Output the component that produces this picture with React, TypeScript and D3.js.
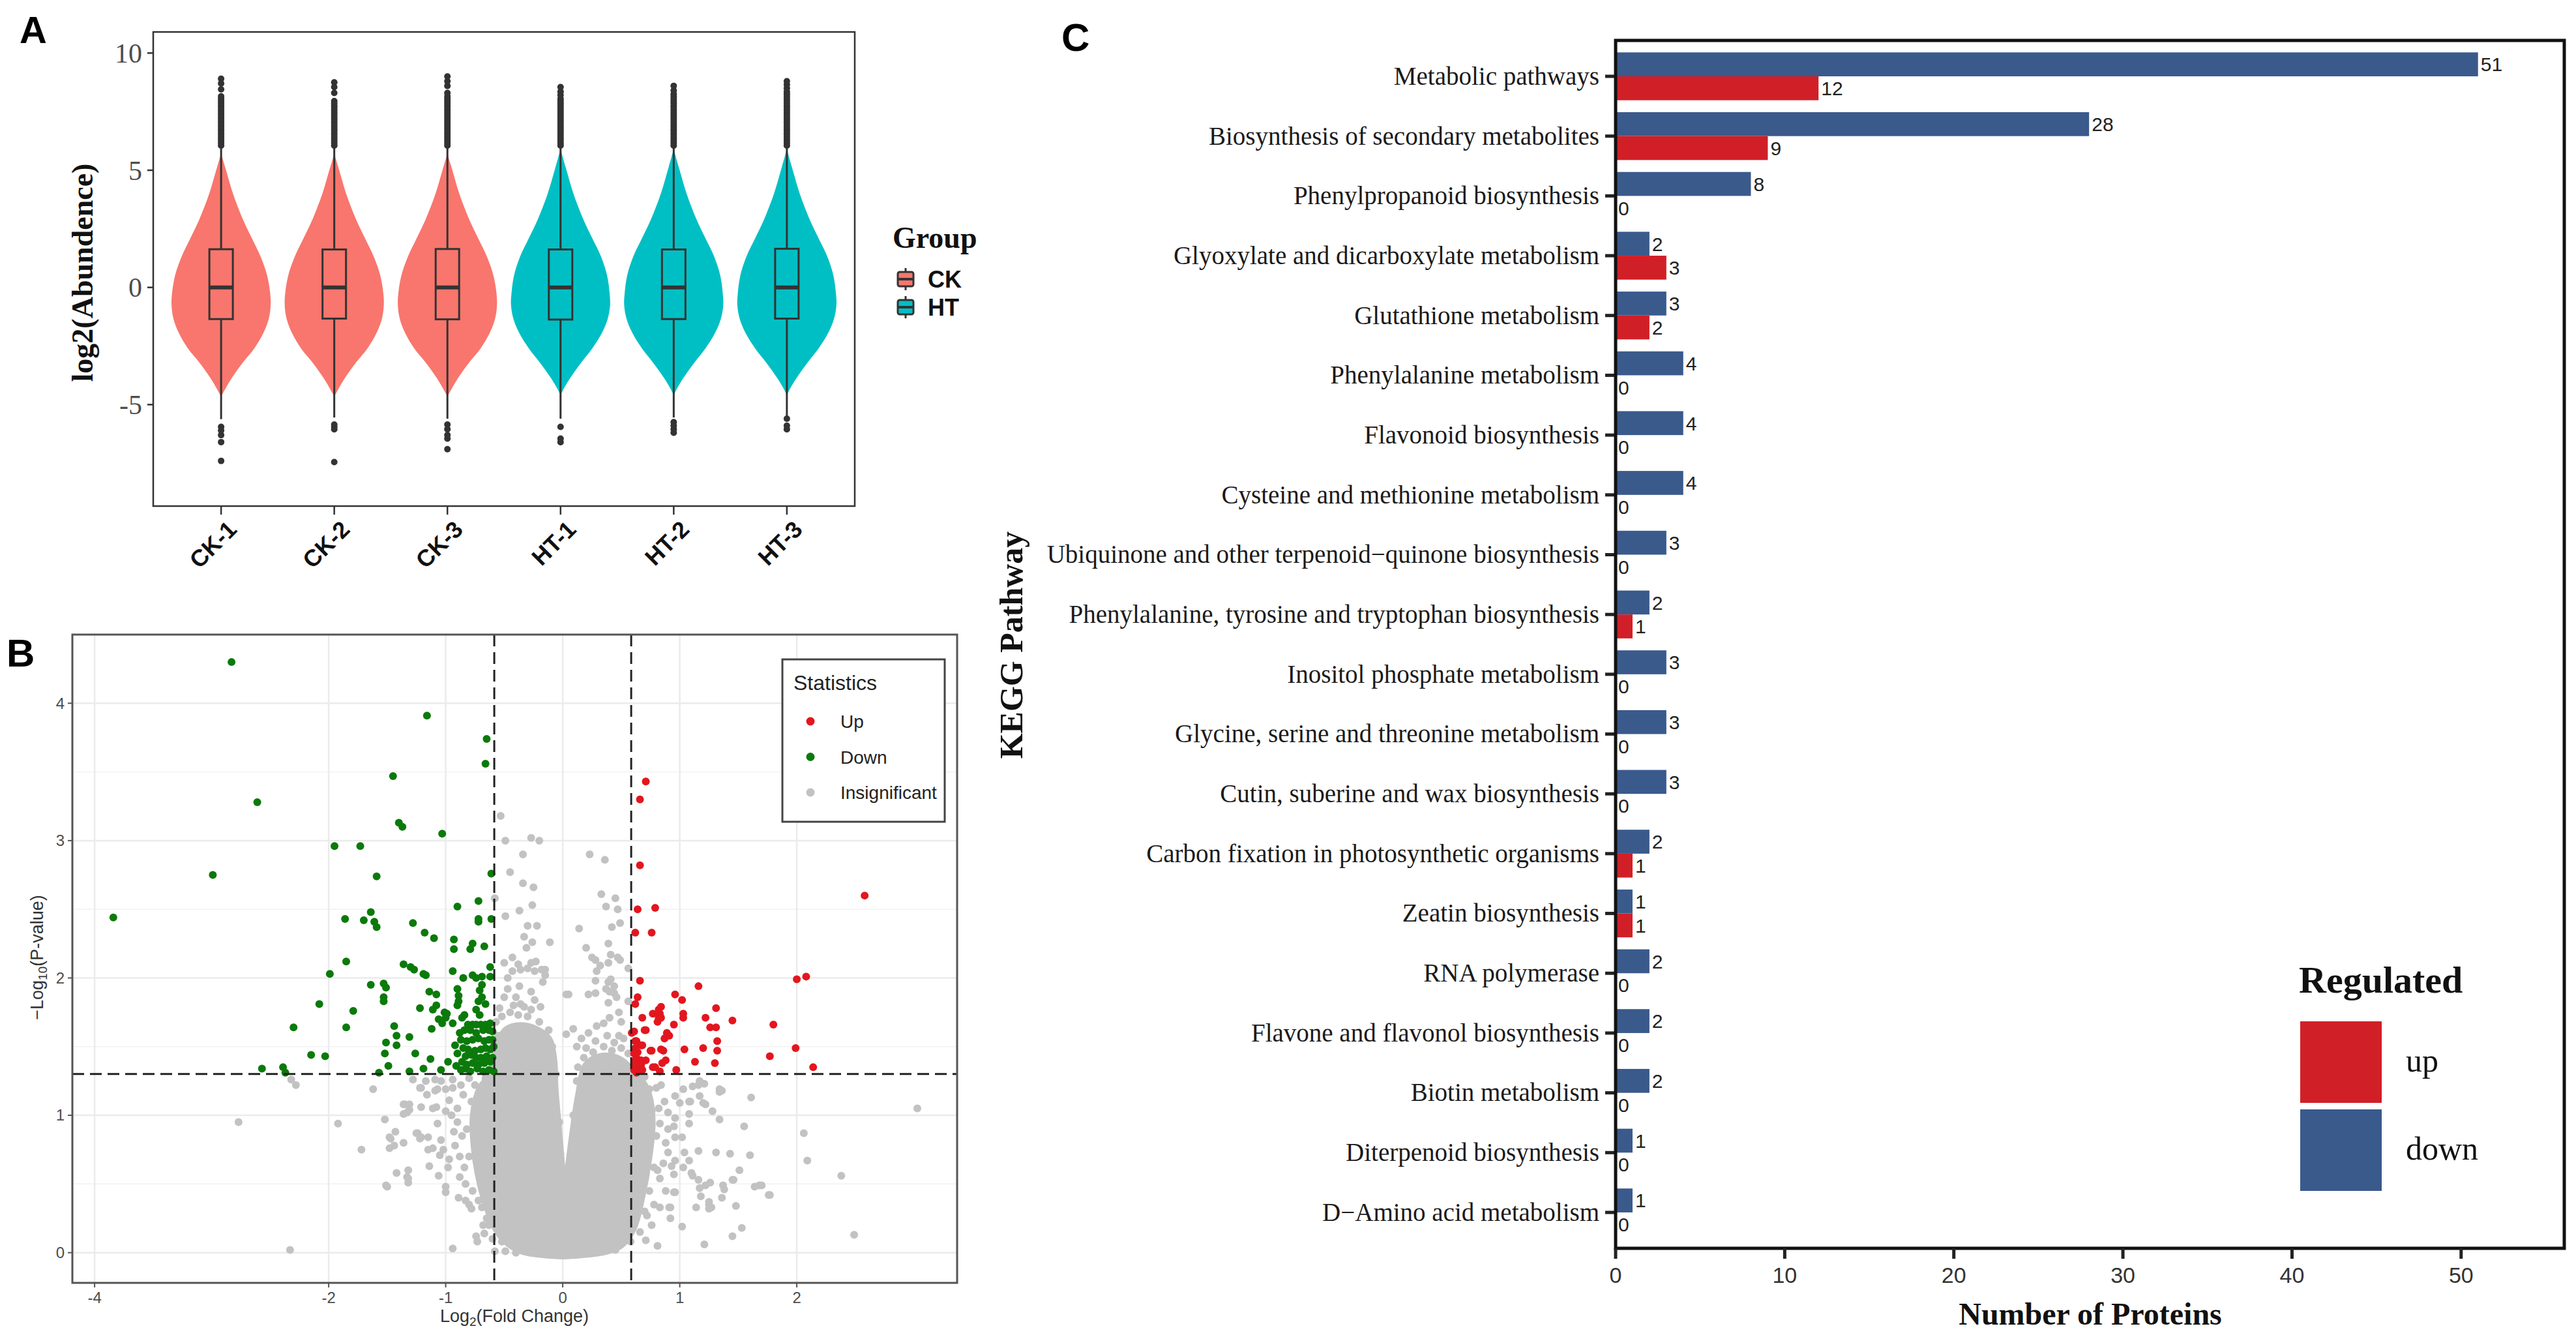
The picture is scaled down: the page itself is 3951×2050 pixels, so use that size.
import React from "react";
import * as d3 from "d3";

const SERIF = "'Liberation Serif', 'Times New Roman', serif";
const SANS = "'Liberation Sans', Arial, sans-serif";
const NARROW = "'Liberation Sans Narrow', 'Liberation Sans', sans-serif";

// ---------- panel A: abundance violins ----------
const samples = ["CK-1", "CK-2", "CK-3", "HT-1", "HT-2", "HT-3"];
const sampleGroup = ["CK", "CK", "CK", "HT", "HT", "HT"];
const groupColor: Record<string, string> = { CK: "#F8766D", HT: "#00BFC4" };
const q1 = [-1.35, -1.33, -1.36, -1.37, -1.35, -1.33];
const medians = [0, 0, 0, 0, 0, 0];
const q3 = [1.63, 1.62, 1.64, 1.62, 1.62, 1.65];
const whiskerLow = [-5.62, -5.55, -5.6, -5.6, -5.55, -5.5];
const whiskerHigh = [5.95, 5.95, 5.97, 5.95, 5.95, 5.97];
const lowOutliers = [
  [-5.95, -6.1, -6.3, -6.6, -7.4],
  [-5.85, -5.95, -6.05, -7.45],
  [-5.85, -6.05, -6.3, -6.45, -6.9],
  [-5.95, -6.45, -6.6],
  [-5.75, -5.9, -6.05, -6.2],
  [-5.6, -5.9, -6.05],
];
const highOutliers = [
  [6.05, 6.15, 6.25, 6.35, 6.45, 6.55, 6.65, 6.75, 6.85, 6.95, 7.05, 7.15, 7.25, 7.35, 7.45, 7.55, 7.65, 7.75, 7.85, 7.95, 8.05, 8.15, 8.45, 8.7, 8.9],
  [6.05, 6.15, 6.25, 6.35, 6.45, 6.55, 6.65, 6.75, 6.85, 6.95, 7.05, 7.15, 7.25, 7.35, 7.45, 7.55, 7.65, 7.75, 7.85, 7.95, 8.3, 8.55, 8.75],
  [6.05, 6.15, 6.25, 6.35, 6.45, 6.55, 6.65, 6.75, 6.85, 6.95, 7.05, 7.15, 7.25, 7.35, 7.45, 7.55, 7.65, 7.75, 7.85, 7.95, 8.05, 8.15, 8.3, 8.6, 8.8, 9.0],
  [6.05, 6.15, 6.25, 6.35, 6.45, 6.55, 6.65, 6.75, 6.85, 6.95, 7.05, 7.15, 7.25, 7.35, 7.45, 7.55, 7.65, 7.75, 7.85, 7.95, 8.05, 8.2, 8.35, 8.55],
  [6.05, 6.15, 6.25, 6.35, 6.45, 6.55, 6.65, 6.75, 6.85, 6.95, 7.05, 7.15, 7.25, 7.35, 7.45, 7.55, 7.65, 7.75, 7.85, 7.95, 8.05, 8.15, 8.25, 8.4, 8.6],
  [6.05, 6.15, 6.25, 6.35, 6.45, 6.55, 6.65, 6.75, 6.85, 6.95, 7.05, 7.15, 7.25, 7.35, 7.45, 7.55, 7.65, 7.75, 7.85, 7.95, 8.05, 8.15, 8.25, 8.35, 8.5, 8.65, 8.8],
];
const ckViolinY = [5.7, 5.0, 4.0, 2.9, 2.1, 1.3, 0.5, -0.25, -0.75, -1.35, -2.0, -2.6, -3.2, -3.85, -4.35, -4.65];
const ckViolinW = [0, 0.1, 0.24, 0.44, 0.62, 0.8, 0.93, 0.99, 1.0, 0.96, 0.84, 0.67, 0.44, 0.22, 0.08, 0];
const htViolinY = [5.9, 5.0, 4.0, 2.9, 2.1, 1.3, 0.5, -0.25, -0.75, -1.35, -2.0, -2.6, -3.2, -3.85, -4.3, -4.6];
const htViolinW = [0, 0.12, 0.26, 0.46, 0.64, 0.82, 0.94, 0.99, 1.0, 0.95, 0.82, 0.64, 0.42, 0.2, 0.07, 0];
const abundTicks = [-5, 0, 5, 10];

// ---------- panel B: volcano ----------
const fcTicks = [-4, -2, -1, 0, 1, 2];
const pTicks = [0, 1, 2, 3, 4];
const pMinor = [0.5, 1.5, 2.5, 3.5];
const fcCut = Math.log2(1.5);
const pCut = -Math.log10(0.05);

const downPoints = [
  [-2.83, 4.3], [-2.61, 3.28], [-2.99, 2.75], [-3.84, 2.44], [-1.16, 3.91], [-0.65, 3.74], [-0.66, 3.56], [-1.45, 3.47],
  [-1.4, 3.13], [-1.37, 3.1], [-1.03, 3.05], [-1.95, 2.96], [-1.73, 2.96], [-1.59, 2.74], [-0.61, 2.76], [-0.72, 2.56],
  [-0.9, 2.52], [-1.64, 2.48], [-1.86, 2.43], [-1.7, 2.42], [-1.61, 2.41], [-1.59, 2.37], [-0.72, 2.43], [-0.72, 2.41],
  [-0.61, 2.43], [-1.28, 2.4], [-1.18, 2.33], [-1.1, 2.29], [-0.93, 2.28], [-0.93, 2.21], [-0.77, 2.25], [-0.79, 2.21],
  [-0.67, 2.23], [-1.85, 2.12], [-1.99, 2.03], [-1.36, 2.1], [-1.3, 2.08], [-1.27, 2.06], [-0.94, 2.05], [-1.19, 2.03],
  [-1.17, 2.02], [-0.85, 2.0], [-0.77, 2.02], [-0.74, 2.0], [-0.69, 2.01], [-0.62, 2.08], [-0.62, 2.01], [-1.64, 1.95],
  [-1.53, 1.96], [-1.51, 1.93], [-0.69, 1.95], [-0.71, 1.91], [-1.14, 1.9], [-1.08, 1.88], [-0.9, 1.92], [-0.89, 1.87],
  [-1.53, 1.86], [-1.53, 1.83], [-0.69, 1.86], [-0.72, 1.83], [-0.66, 1.81], [-2.08, 1.81], [-1.08, 1.8], [-1.11, 1.77],
  [-0.89, 1.83], [-0.9, 1.8], [-1.79, 1.76], [-1.01, 1.75], [-0.99, 1.74], [-1.0, 1.71], [-0.84, 1.73], [-0.86, 1.71],
  [-0.74, 1.77], [-0.71, 1.73], [-1.22, 1.78], [-1.44, 1.65], [-2.3, 1.64], [-1.85, 1.64], [-1.12, 1.63], [-1.06, 1.7],
  [-1.03, 1.67], [-0.94, 1.67], [-0.81, 1.66], [-0.77, 1.66], [-0.74, 1.66], [-0.7, 1.66], [-0.66, 1.66], [-0.62, 1.67],
  [-0.84, 1.62], [-0.79, 1.62], [-0.74, 1.6], [-0.68, 1.62], [-0.63, 1.62], [-0.6, 1.61], [-1.31, 1.57], [-1.42, 1.58],
  [-1.51, 1.53], [-0.87, 1.55], [-0.82, 1.54], [-0.77, 1.55], [-0.72, 1.56], [-0.67, 1.54], [-0.63, 1.55], [-0.6, 1.55],
  [-1.42, 1.51], [-0.92, 1.51], [-0.85, 1.49], [-0.81, 1.48], [-0.75, 1.47], [-0.7, 1.48], [-0.66, 1.49], [-0.62, 1.48],
  [-0.59, 1.5], [-0.83, 1.43], [-0.78, 1.44], [-0.74, 1.42], [-0.7, 1.42], [-0.65, 1.43], [-0.6, 1.42], [-1.52, 1.45],
  [-1.26, 1.45], [-1.13, 1.41], [-2.15, 1.44], [-2.03, 1.43], [-0.98, 1.39], [-0.86, 1.39], [-0.82, 1.37], [-0.77, 1.38],
  [-0.72, 1.37], [-0.67, 1.38], [-0.62, 1.39], [-2.57, 1.34], [-2.39, 1.35], [-2.37, 1.31], [-1.49, 1.36], [-1.19, 1.34],
  [-1.04, 1.33], [-0.87, 1.33], [-0.83, 1.34], [-0.79, 1.32], [-0.73, 1.34], [-0.68, 1.32], [-0.63, 1.33], [-0.59, 1.32],
  [-1.57, 1.31], [-1.31, 1.32], [-0.9, 1.45], [-0.88, 1.6], [-0.91, 1.36],
];

const upPoints = [
  [0.71, 3.43], [0.66, 3.3], [0.66, 2.82], [0.64, 2.5], [0.79, 2.51], [0.62, 2.33], [0.76, 2.33], [2.58, 2.6],
  [2.0, 1.99], [2.08, 2.01], [0.66, 1.98], [1.16, 1.94], [0.96, 1.88], [1.02, 1.84], [0.64, 1.86], [0.62, 1.81],
  [0.84, 1.79], [1.31, 1.78], [0.77, 1.74], [0.83, 1.74], [0.82, 1.71], [0.68, 1.71], [1.03, 1.74], [1.03, 1.71],
  [1.22, 1.71], [1.45, 1.69], [1.8, 1.66], [0.95, 1.66], [1.26, 1.64], [1.31, 1.64], [0.71, 1.62], [0.61, 1.61],
  [0.89, 1.6], [0.91, 1.58], [0.87, 1.56], [1.32, 1.54], [0.62, 1.54], [0.67, 1.51], [0.62, 1.49], [0.61, 1.45],
  [0.76, 1.47], [1.04, 1.48], [1.2, 1.49], [1.32, 1.47], [1.99, 1.49], [0.86, 1.47], [0.63, 1.42], [0.67, 1.4],
  [0.61, 1.37], [0.65, 1.35], [0.61, 1.33], [0.64, 1.32], [0.68, 1.33], [0.71, 1.4], [0.88, 1.4], [0.85, 1.38],
  [1.13, 1.39], [1.3, 1.38], [1.77, 1.43], [0.79, 1.35], [2.14, 1.35], [0.97, 1.33], [0.59, 1.6], [0.63, 1.54],
  [0.64, 1.46], [0.62, 1.4], [0.67, 1.37], [0.63, 1.31], [0.77, 1.35], [0.82, 1.77], [0.84, 1.71], [0.81, 1.68],
  [0.7, 1.62], [0.68, 1.51], [0.75, 1.47], [0.84, 1.48], [0.83, 1.32],
];

const insigPoints = [
  [-0.53, 3.18], [-0.49, 3.0], [-0.27, 3.02], [-0.2, 3.0], [-0.34, 2.9], [-0.45, 2.77], [-0.34, 2.69], [-0.25, 2.66],
  [-0.58, 2.58], [-0.37, 2.49], [-0.26, 2.53], [-0.49, 2.45], [-0.3, 2.38], [-0.22, 2.38], [-0.33, 2.3], [-0.26, 2.26],
  [-0.11, 2.26], [-0.31, 2.22], [-0.43, 2.15], [-0.38, 2.1], [-0.43, 2.05], [-0.27, 2.11], [-0.18, 2.06], [-0.15, 2.02],
  [-0.47, 1.92], [-0.4, 1.86], [-0.27, 1.9], [-0.5, 2.11], [-0.36, 2.06], [-0.3, 2.07], [-0.15, 2.06], [-0.17, 1.97],
  [-0.47, 2.0], [-0.37, 1.94], [-0.5, 1.86], [-0.36, 1.81], [-0.24, 1.84], [-0.19, 1.79], [-0.54, 1.78], [-0.24, 2.05],
  [-0.23, 2.12], [0.23, 2.9], [0.36, 2.86], [0.33, 2.61], [0.45, 2.58], [0.37, 2.52], [0.47, 2.5], [0.14, 2.36],
  [0.42, 2.37], [0.49, 2.4], [0.2, 2.22], [0.39, 2.25], [0.41, 2.17], [0.25, 2.15], [0.32, 2.09], [0.47, 2.15],
  [0.41, 1.99], [0.37, 1.92], [0.05, 1.88], [0.46, 1.86], [0.28, 2.13], [0.39, 2.11], [0.49, 2.13], [0.29, 2.05],
  [0.28, 1.98], [0.39, 1.97], [0.44, 1.94], [0.22, 1.88], [0.28, 1.89], [0.4, 1.9], [0.44, 1.89], [0.39, 1.82],
  [0.56, 2.07], [0.56, 1.83], [0.48, 1.75], [0.4, 1.71], [0.5, 1.68], [0.29, 1.65], [0.35, 1.67], [0.09, 1.63],
  [0.03, 1.59], [0.22, 1.6], [0.28, 1.54], [0.48, 1.58], [0.16, 1.56], [0.2, 1.49], [0.03, 1.88], [-0.02, 0.72],
  [-0.05, 0.82], [-2.77, 0.95], [-2.33, 0.02], [-2.28, 1.22], [-2.32, 1.26], [-1.92, 0.94], [-1.72, 0.75], [-1.62, 1.19],
  [-1.5, 0.48], [-1.47, 0.83], [-1.44, 0.78], [-1.33, 0.55], [-1.32, 0.51], [-1.35, 1.08], [-1.31, 1.04], [-1.24, 0.87],
  [-1.22, 0.83], [-1.14, 0.63], [-1.11, 0.76], [-0.94, 0.03], [-1.0, 0.44], [-1.07, 0.94], [-1.42, 0.58], [-0.94, 1.26],
  [-1.07, 1.19], [-1.28, 1.26], [-1.52, 0.97], [-1.48, 0.84], [-1.48, 0.76], [-1.43, 0.88], [-1.36, 1.08], [-1.31, 1.08],
  [-1.36, 1.01], [-1.33, 1.02], [-1.36, 0.8], [-1.32, 0.6], [-1.32, 0.54], [-1.51, 0.49], [-1.25, 0.87], [-1.21, 0.84],
  [-1.15, 0.84], [-1.15, 0.75], [-1.21, 1.2], [-1.21, 1.06], [-1.16, 1.15], [-1.09, 1.18], [-1.11, 1.05], [-1.08, 1.06],
  [-1.04, 1.25], [-1.0, 1.19], [-1.06, 0.56], [-1.0, 0.48], [-1.04, 0.82], [-1.02, 0.75], [-1.05, 0.71], [-0.98, 0.62],
  [-0.97, 0.68], [-0.89, 0.4], [-0.83, 0.38], [-0.8, 0.35], [-0.78, 0.32], [-0.74, 0.12], [-0.73, 0.08], [-0.69, 0.33],
  [-0.65, 0.25], [-0.63, 0.2], [-0.67, 0.14], [-0.58, 0.01], [-0.49, 0.01], [-0.52, 0.08], [-1.0, 1.03], [-0.97, 1.11],
  [-0.94, 1.2], [-0.87, 1.22], [-1.17, 1.25], [-1.09, 1.26], [-1.22, 1.2], [-0.9, 0.95], [-0.92, 0.78], [-0.88, 0.55],
  [-0.84, 0.62], [-0.9, 1.05], [-0.86, 0.85], [3.03, 1.05], [2.49, 0.13], [2.38, 0.56], [2.09, 0.67], [2.06, 0.87],
  [1.76, 0.42], [1.68, 0.49], [1.6, 0.71], [1.61, 1.13], [1.53, 0.18], [1.46, 0.53], [1.43, 0.72], [1.55, 0.92],
  [1.31, 0.73], [1.21, 0.06], [1.27, 0.33], [1.25, 0.37], [1.38, 0.46], [1.22, 1.08], [1.22, 0.49], [1.08, 0.94],
  [1.08, 1.1], [1.03, 1.19], [0.96, 0.44], [0.91, 0.33], [1.34, 1.19], [1.16, 1.22], [1.51, 0.6], [1.45, 0.53],
  [1.37, 0.49], [1.64, 0.48], [1.7, 0.49], [1.77, 0.42], [1.45, 0.12], [1.48, 0.34], [1.36, 0.4], [1.25, 0.35],
  [1.25, 0.32], [1.14, 0.33], [1.02, 0.19], [0.92, 0.33], [0.92, 0.25], [1.17, 0.47], [1.18, 0.41], [1.26, 0.51],
  [1.16, 0.53], [1.1, 0.58], [1.11, 0.56], [1.03, 0.62], [1.08, 0.67], [0.95, 0.57], [0.93, 0.63], [0.95, 0.44],
  [0.96, 0.67], [1.04, 0.73], [1.16, 0.74], [0.9, 0.73], [0.96, 0.84], [1.02, 0.84], [0.95, 0.92], [0.96, 0.98],
  [1.34, 0.97], [1.28, 1.03], [1.08, 1.01], [0.9, 1.02], [1.0, 1.09], [1.09, 1.1], [1.2, 1.09], [0.96, 1.14],
  [1.17, 1.14], [1.34, 1.17], [1.36, 1.18], [1.11, 1.21], [1.17, 1.25], [1.21, 1.23], [0.66, 1.26], [0.64, 1.19],
  [0.74, 1.19], [0.76, 1.03], [0.83, 0.94], [0.81, 0.6], [0.83, 0.54], [0.72, 0.27], [0.76, 0.2], [0.81, 0.05],
  [0.71, 0.09], [0.83, 0.33], [0.88, 0.8], [0.87, 1.1], [0.9, 0.9],
  // rim of the dense core
  [-0.8, 1.27], [-0.78, 1.1], [-0.82, 0.9], [-0.8, 0.7], [-0.77, 0.45], [-0.72, 0.38], [-0.68, 0.2], [-0.6, 0.1],
  [-0.85, 1.15], [-0.88, 0.7], [-0.83, 0.5], [-0.93, 0.88], [-0.95, 1.0], [-0.75, 1.22], [-0.66, 1.27], [-0.57, 1.68],
  [-0.52, 1.72], [-0.45, 1.75], [-0.38, 1.73], [-0.3, 1.72], [-0.2, 1.68], [-0.12, 1.62], [-0.09, 1.5], [-0.42, 1.8],
  [-0.33, 1.79], [-0.27, 1.77], [-0.55, 1.58], [0.8, 1.2], [0.82, 1.05], [0.8, 0.85], [0.78, 0.62], [0.74, 0.45],
  [0.7, 0.3], [0.66, 0.15], [0.58, 0.08], [0.86, 0.65], [0.88, 0.45], [0.78, 0.35], [0.84, 1.22], [0.7, 1.28],
  [0.56, 1.45], [0.5, 1.49], [0.42, 1.47], [0.35, 1.5], [0.26, 1.46], [0.18, 1.42], [0.13, 1.35], [0.12, 1.5],
  [0.52, 1.56], [0.38, 1.58], [0.44, 1.53], [0.0, 0.4], [-0.03, 0.95], [-0.06, 1.3], [0.05, 0.5], [0.09, 1.0],
  [0.12, 1.25], [-0.4, 0.0], [0.45, 0.02],
];

// outline of the solid grey core where points fully overlap
const insigCore = [
  [0.02, 0.35], [-0.01, 0.6], [-0.04, 0.9], [-0.07, 1.2], [-0.08, 1.4], [-0.12, 1.55], [-0.22, 1.62], [-0.36, 1.65],
  [-0.48, 1.62], [-0.56, 1.5], [-0.6, 1.3], [-0.7, 1.2], [-0.76, 1.0], [-0.75, 0.75], [-0.7, 0.5], [-0.63, 0.3],
  [-0.55, 0.15], [-0.45, 0.06], [-0.33, 0.01], [-0.18, -0.01], [0.0, -0.02], [0.18, -0.01], [0.36, 0.01], [0.5, 0.06],
  [0.6, 0.18], [0.67, 0.4], [0.73, 0.68], [0.76, 0.95], [0.73, 1.15], [0.66, 1.26], [0.58, 1.3], [0.55, 1.36],
  [0.44, 1.42], [0.3, 1.42], [0.2, 1.36], [0.14, 1.15], [0.09, 0.87], [0.05, 0.6],
];

const statLabels = ["Up", "Down", "Insignificant"];
const statColors = ["#E3161E", "#0B7A0B", "#C2C2C2"];

// ---------- panel C: KEGG ----------
const pathways = [
  "Metabolic pathways",
  "Biosynthesis of secondary metabolites",
  "Phenylpropanoid biosynthesis",
  "Glyoxylate and dicarboxylate metabolism",
  "Glutathione metabolism",
  "Phenylalanine metabolism",
  "Flavonoid biosynthesis",
  "Cysteine and methionine metabolism",
  "Ubiquinone and other terpenoid\u2212quinone biosynthesis",
  "Phenylalanine, tyrosine and tryptophan biosynthesis",
  "Inositol phosphate metabolism",
  "Glycine, serine and threonine metabolism",
  "Cutin, suberine and wax biosynthesis",
  "Carbon fixation in photosynthetic organisms",
  "Zeatin biosynthesis",
  "RNA polymerase",
  "Flavone and flavonol biosynthesis",
  "Biotin metabolism",
  "Diterpenoid biosynthesis",
  "D\u2212Amino acid metabolism",
];
const downCounts = [51, 28, 8, 2, 3, 4, 4, 4, 3, 2, 3, 3, 3, 2, 1, 2, 2, 2, 1, 1];
const upCounts = [12, 9, 0, 3, 2, 0, 0, 0, 0, 1, 0, 0, 0, 1, 1, 0, 0, 0, 0, 0];
const countTicks = [0, 10, 20, 30, 40, 50];
const regLabels = ["up", "down"];
const regColors = ["#D11F27", "#3A5A8C"];

const PanelA: React.FC = () => {
  const x = d3.scalePoint<string>().domain(samples).range([235, 1311]).padding(0.6);
  const y = d3.scaleLinear().domain([-9.33, 10.9]).range([776, 49]);
  const halfW = 76;
  const violinPath = (cx: number, ys: number[], ws: number[]) =>
    d3
      .area<number>()
      .curve(d3.curveCatmullRom)
      .y((v) => y(v))
      .x0((_, i) => cx - ws[i] * halfW)
      .x1((_, i) => cx + ws[i] * halfW)(ys) || "";

  return (
    <g>
      <text x={30} y={66} fontFamily={SANS} fontWeight={700} fontSize={58}>A</text>
      {samples.map((s, i) => {
        const cx = x(s)!;
        const ck = sampleGroup[i] === "CK";
        const col = groupColor[sampleGroup[i]];
        return (
          <g key={s}>
            <path d={violinPath(cx, ck ? ckViolinY : htViolinY, ck ? ckViolinW : htViolinW)} fill={col} />
            <line x1={cx} x2={cx} y1={y(q3[i])} y2={y(whiskerHigh[i])} stroke="#333" strokeWidth={3} />
            <line x1={cx} x2={cx} y1={y(q1[i])} y2={y(whiskerLow[i])} stroke="#333" strokeWidth={3} />
            <rect x={cx - 18} width={36} y={y(q3[i])} height={y(q1[i]) - y(q3[i])} fill={col} stroke="#333" strokeWidth={3} />
            <line x1={cx - 18} x2={cx + 18} y1={y(medians[i])} y2={y(medians[i])} stroke="#333" strokeWidth={6} />
            {[...lowOutliers[i], ...highOutliers[i]].map((v, k) => (
              <circle key={k} cx={cx} cy={y(v)} r={5} fill="#333" />
            ))}
          </g>
        );
      })}
      <rect x={235} y={49} width={1076} height={727} fill="none" stroke="#333" strokeWidth={2.5} />
      {abundTicks.map((t) => (
        <g key={t}>
          <line x1={226} x2={235} y1={y(t)} y2={y(t)} stroke="#333" strokeWidth={2.5} />
          <text x={218} y={y(t)} dy="0.35em" textAnchor="end" fontFamily={SERIF} fontSize={42} fill="#4d4d4d">
            {t < 0 ? `-${-t}` : t}
          </text>
        </g>
      ))}
      {samples.map((s) => (
        <g key={s}>
          <line x1={x(s)} x2={x(s)} y1={776} y2={789} stroke="#333" strokeWidth={2.5} />
          <text
            transform={`translate(${x(s)! + 26},${814}) rotate(-45)`}
            textAnchor="end"
            fontFamily={SANS}
            fontWeight={700}
            fontSize={36}
            fill="#111"
          >
            {s}
          </text>
        </g>
      ))}
      <text
        transform="translate(142,418) rotate(-90)"
        textAnchor="middle"
        fontFamily={SERIF}
        fontWeight={700}
        fontSize={46}
        fill="#111"
      >
        log2(Abundence)
      </text>
      <text x={1369} y={380} fontFamily={SERIF} fontWeight={700} fontSize={46} fill="#111">Group</text>
      {["CK", "HT"].map((g, i) => {
        const cy = 428 + i * 43;
        return (
          <g key={g}>
            <line x1={1389} x2={1389} y1={cy - 17} y2={cy + 17} stroke="#333" strokeWidth={3} />
            <rect x={1377} y={cy - 11} width={24} height={22} rx={3} fill={groupColor[g]} stroke="#333" strokeWidth={3} />
            <line x1={1377} x2={1401} y1={cy} y2={cy} stroke="#333" strokeWidth={4} />
            <text x={1423} y={cy} dy="0.36em" fontFamily={SANS} fontWeight={700} fontSize={36} fill="#111">{g}</text>
          </g>
        );
      })}
    </g>
  );
};

const PanelB: React.FC = () => {
  const x = d3.scaleLinear().domain([-4.19, 3.37]).range([111, 1468]);
  const y = d3.scaleLinear().domain([-0.22, 4.5]).range([1967, 973]);
  const r = 6;
  const core = d3
    .line<number[]>()
    .x((d) => x(d[0]))
    .y((d) => y(d[1]))
    .curve(d3.curveCatmullRomClosed)(insigCore) || "";

  return (
    <g>
      <text x={10} y={1022} fontFamily={SANS} fontWeight={700} fontSize={60}>B</text>
      <rect x={111} y={973} width={1357} height={994} fill="#fff" />
      {pMinor.map((t) => (
        <line key={t} x1={111} x2={1468} y1={y(t)} y2={y(t)} stroke="#F2F2F2" strokeWidth={1.5} />
      ))}
      {pTicks.map((t) => (
        <line key={t} x1={111} x2={1468} y1={y(t)} y2={y(t)} stroke="#EBEBEB" strokeWidth={2.5} />
      ))}
      {fcTicks.map((t) => (
        <line key={t} x1={x(t)} x2={x(t)} y1={973} y2={1967} stroke="#EBEBEB" strokeWidth={2.5} />
      ))}
      <path d={core} fill={statColors[2]} stroke={statColors[2]} strokeWidth={2 * r} strokeLinejoin="round" />
      {insigPoints.map((d, i) => (
        <circle key={`g${i}`} cx={x(d[0])} cy={y(d[1])} r={r} fill={statColors[2]} />
      ))}
      {downPoints.map((d, i) => (
        <circle key={`d${i}`} cx={x(d[0])} cy={y(d[1])} r={r} fill={statColors[1]} />
      ))}
      {upPoints.map((d, i) => (
        <circle key={`u${i}`} cx={x(d[0])} cy={y(d[1])} r={r} fill={statColors[0]} />
      ))}
      <g stroke="#222" strokeWidth={3} strokeDasharray="18 9">
        <line x1={x(-fcCut)} x2={x(-fcCut)} y1={973} y2={1967} />
        <line x1={x(fcCut)} x2={x(fcCut)} y1={973} y2={1967} />
        <line x1={111} x2={1468} y1={y(pCut)} y2={y(pCut)} />
      </g>
      <rect x={111} y={973} width={1357} height={994} fill="none" stroke="#555" strokeWidth={3} />
      {fcTicks.map((t) => (
        <g key={t}>
          <line x1={x(t)} x2={x(t)} y1={1967} y2={1974} stroke="#555" strokeWidth={2} />
          <text x={x(t)} y={1998} textAnchor="middle" fontFamily={SANS} fontSize={24} fill="#4d4d4d">{t}</text>
        </g>
      ))}
      {pTicks.map((t) => (
        <g key={t}>
          <line x1={104} x2={111} y1={y(t)} y2={y(t)} stroke="#555" strokeWidth={2} />
          <text x={99} y={y(t)} dy="0.35em" textAnchor="end" fontFamily={SANS} fontSize={24} fill="#4d4d4d">{t}</text>
        </g>
      ))}
      <text x={789} y={2027} textAnchor="middle" fontFamily={SANS} fontSize={27} fill="#333">
        Log<tspan fontSize={19} dy={6}>2</tspan>
        <tspan dy={-6}>(Fold Change)</tspan>
      </text>
      <text transform="translate(66,1468) rotate(-90)" textAnchor="middle" fontFamily={SANS} fontSize={27} fill="#333">
        {"\u2212Log"}<tspan fontSize={19} dy={6}>10</tspan>
        <tspan dy={-6}>(P-value)</tspan>
      </text>
      <rect x={1200} y={1011} width={249} height={249} fill="#fff" stroke="#444" strokeWidth={3} />
      <text x={1217} y={1058} fontFamily={SANS} fontSize={32} fill="#222">Statistics</text>
      {statLabels.map((s, i) => (
        <g key={s}>
          <circle cx={1243} cy={1106 + i * 54.5} r={6.5} fill={statColors[i]} />
          <text x={1289} y={1106 + i * 54.5} dy="0.36em" fontFamily={SANS} fontSize={28} fill="#222">{s}</text>
        </g>
      ))}
    </g>
  );
};

const PanelC: React.FC = () => {
  const x = d3.scaleLinear().domain([0, 56.1]).range([2478, 3933]);
  const y = d3.scalePoint<string>().domain(pathways).range([62, 1914]).padding(0.6);
  const barH = y.step() * 0.4;

  return (
    <g>
      <text x={1628} y={78} fontFamily={SANS} fontWeight={700} fontSize={60}>C</text>
      {pathways.map((p, i) => {
        const cy = y(p)!;
        return (
          <g key={p}>
            <rect x={x(0)} y={cy - barH} width={x(downCounts[i]) - x(0)} height={barH} fill={regColors[1]} />
            <rect x={x(0)} y={cy} width={x(upCounts[i]) - x(0)} height={barH} fill={regColors[0]} />
            <text x={x(downCounts[i]) + 4} y={cy - barH / 2} dy="0.36em" fontFamily={NARROW} fontSize={30} fill="#222">
              {downCounts[i]}
            </text>
            <text x={x(upCounts[i]) + 4} y={cy + barH / 2} dy="0.36em" fontFamily={NARROW} fontSize={30} fill="#222">
              {upCounts[i]}
            </text>
            <line x1={2462} x2={2478} y1={cy} y2={cy} stroke="#222" strokeWidth={5} />
            <text x={2453} y={cy} dy="0.33em" textAnchor="end" fontFamily={SERIF} fontSize={39} fill="#1a1a1a">{p}</text>
          </g>
        );
      })}
      <rect x={2478} y={62} width={1455} height={1852} fill="none" stroke="#111" strokeWidth={5} />
      {countTicks.map((t) => (
        <g key={t}>
          <line x1={x(t)} x2={x(t)} y1={1914} y2={1930} stroke="#222" strokeWidth={5} />
          <text x={x(t)} y={1967} textAnchor="middle" fontFamily={SANS} fontSize={34} fill="#333">{t}</text>
        </g>
      ))}
      <text x={3206} y={2031} textAnchor="middle" fontFamily={SERIF} fontWeight={700} fontSize={48} fill="#111">
        Number of Proteins
      </text>
      <text
        transform="translate(1568,989) rotate(-90)"
        textAnchor="middle"
        fontFamily={SERIF}
        fontWeight={700}
        fontSize={50}
        fill="#111"
      >
        KEGG Pathway
      </text>
      <text x={3526} y={1522} fontFamily={SERIF} fontWeight={700} fontSize={58} fill="#111">Regulated</text>
      {regLabels.map((l, i) => (
        <g key={l}>
          <rect x={3528} y={1566 + i * 135} width={125} height={125} fill={regColors[i]} />
          <text x={3690} y={1628 + i * 135} dy="0.3em" fontFamily={SERIF} fontSize={50} fill="#111">{l}</text>
        </g>
      ))}
    </g>
  );
};

export default function App() {
  return (
    <div style={{ position: "absolute", left: 0, top: 0 }}>
      <svg width={3951} height={2050} style={{ display: "block", background: "#fff" }}>
        <PanelA />
        <PanelB />
        <PanelC />
      </svg>
    </div>
  );
}
